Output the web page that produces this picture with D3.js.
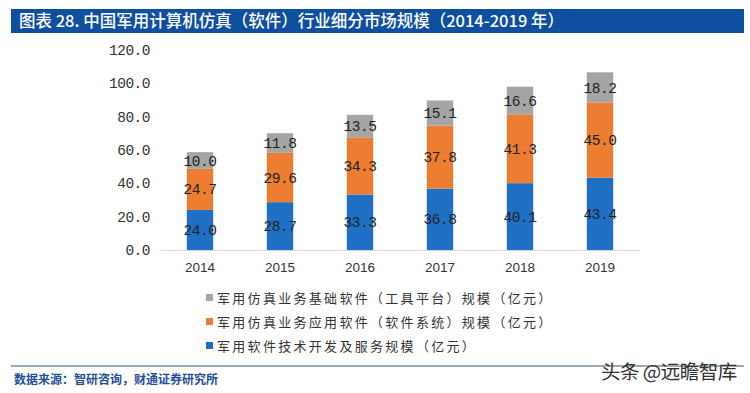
<!DOCTYPE html>
<html><head><meta charset="utf-8">
<script src="https://cdn.jsdelivr.net/npm/d3@7"></script>
<style>
html,body{margin:0;padding:0;background:#fff;}
svg{display:block;}
</style></head>
<body>
<svg id="c" width="750" height="393"></svg>
<script>
const years = ["2014","2015","2016","2017","2018","2019"];
const services = [24.0, 28.7, 33.3, 36.8, 40.1, 43.4];
const appSoftware = [24.7, 29.6, 34.3, 37.8, 41.3, 45.0];
const baseSoftware = [10.0, 11.8, 13.5, 15.1, 16.6, 18.2];
const yTicks = [0, 20, 40, 60, 80, 100, 120];
const seriesNames = ["军用软件技术开发及服务规模（亿元）", "军用仿真业务应用软件（软件系统）规模（亿元）", "军用仿真业务基础软件（工具平台）规模（亿元）"];
const colors = ["#1F70C4", "#ED7D31", "#A5A5A5"];
const title = "图表 28. 中国军用计算机仿真（软件）行业细分市场规模（2014-2019 年）";
const source = "数据来源：智研咨询，财通证券研究所";
const watermark = "头条 @远瞻智库";

const svg = d3.select("#c");
const cjk = "'Noto Sans CJK SC','Noto Sans',sans-serif";
const mono = "'Liberation Mono','DejaVu Sans Mono',monospace";

// title bar
svg.append("rect").attr("x",11).attr("y",9).attr("width",733).attr("height",24).attr("fill","#0E4FA0");
svg.append("text").attr("x",19).attr("y",27).attr("fill","#fff").attr("font-family",cjk)
  .attr("font-size",16.5).attr("font-weight",500).text(title);

const x = d3.scaleBand().domain(years).range([160,640]).paddingInner(0.67).paddingOuter(0.335);
const y = d3.scaleLinear().domain([0,120]).range([250,50]);

const data = years.map((yr,i)=>({year:yr, v:[services[i], appSoftware[i], baseSoftware[i]]}));
const stack = d3.stack().keys([0,1,2]).value((d,k)=>d.v[k]);
const layers = stack(data);

// y axis labels
const yAxis = d3.axisLeft(y).tickValues(yTicks).tickFormat(d=>d3.format(".1f")(d)).tickSize(0).tickPadding(0);
const ga = svg.append("g").attr("transform","translate(150,0)").call(yAxis);
ga.select(".domain").remove();
ga.selectAll("text").attr("font-family",mono).attr("font-size",14.5).attr("fill","#333").attr("letter-spacing","-0.5");

// bars
layers.forEach((layer,k)=>{
  svg.append("g").selectAll("rect").data(layer).join("rect")
    .attr("x",d=>x(d.data.year)).attr("width",x.bandwidth())
    .attr("y",d=>y(d[1])).attr("height",d=>y(d[0])-y(d[1]))
    .attr("fill",colors[k]);
  svg.append("g").selectAll("text").data(layer).join("text")
    .attr("x",d=>x(d.data.year)+x.bandwidth()/2)
    .attr("y",d=>(y(d[0])+y(d[1]))/2+5)
    .attr("text-anchor","middle").attr("font-family",mono).attr("font-size",14.5)
    .attr("fill","#222").attr("letter-spacing","-0.5")
    .text(d=>d3.format(".1f")(d[1]-d[0]));
});

// x axis
const xAxis = d3.axisBottom(x).tickSize(0).tickPadding(12);
const gx = svg.append("g").attr("transform","translate(0,250)").call(xAxis);
gx.select(".domain").attr("stroke","#D9D9D9").attr("stroke-width",1.2);
gx.selectAll("text").attr("font-family","'Liberation Sans',Arial,sans-serif").attr("font-size",13.5).attr("fill","#333");

// legend
const legendOrder = [2,1,0];
const legendY = [298, 322, 346];
legendOrder.forEach((k,i)=>{
  svg.append("rect").attr("x",206).attr("y",legendY[i]-4).attr("width",7).attr("height",7).attr("fill",colors[k]);
  svg.append("text").attr("x",217).attr("y",legendY[i]+5).attr("font-family",cjk)
    .attr("font-size",13).attr("letter-spacing","2.3").attr("fill","#333").text(seriesNames[k]);
});

// footer
svg.append("line").attr("x1",11).attr("x2",744).attr("y1",366).attr("y2",366).attr("stroke","#7A8CA0").attr("stroke-width",1.5);
svg.append("text").attr("x",14).attr("y",384).attr("font-family",cjk).attr("font-size",12)
  .attr("font-weight","bold").attr("fill","#1F4E9A").text(source);
svg.append("text").attr("x",601).attr("y",379).attr("font-family",cjk).attr("font-size",19.5)
  .attr("fill","#333").attr("letter-spacing","-0.5").text(watermark);
</script>
</body></html>
